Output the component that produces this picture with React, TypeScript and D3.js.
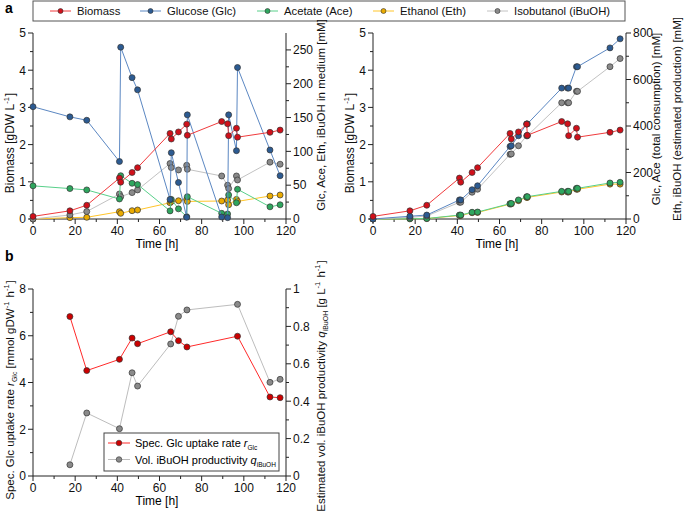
import React from "react";
import * as d3 from "d3";

// ---------- DATA ----------
const times = [0, 17.5, 25.5, 41, 41.6, 47, 49.6, 65, 65.6, 69, 72.9, 73.2, 89.5, 92.3, 92.8, 96.5, 97, 112.4, 117.2];
const biomass = [0.07, 0.22, 0.37, 1.1, 0.99, 1.25, 1.38, 2.3, 2.15, 2.34, 2.55, 2.25, 2.62, 2.56, 2.24, 2.44, 2.2, 2.33, 2.39];
const glucose = [166, 151, 146, 85, 254, 209, 191, 29, 98, 54, 2.5, 154, 3, 2, 154, 101, 224, 102, 64];
const acetate = [49, 45, 43, 29.6, 64, 52.8, 51, 12, 29, 15, 3.4, 33, 8.4, 7.4, 35.5, 24, 44, 18, 21];
const ethanol = [0, 2, 2.5, 10.8, 8.4, 12.3, 13.3, 24, 26, 27, 29, 26, 26.6, 28, 21, 29, 26, 34, 35.5];
const isobutanol = [0, 6, 11, 37, 33, 39, 43, 82, 76, 72.5, 79.4, 73.5, 63.6, 50, 45, 63.6, 57.7, 84, 81];

const glcTotal = [0, 12, 17, 82, 82, 126, 143, 312, 315, 358, 409, 409, 563, 563, 563, 655, 655, 736, 775];
const aceTotal = [0, 1, 2, 17, 17, 29, 30, 66, 67, 82, 96, 96, 119, 119, 119, 132, 132, 155, 158];
const ethTotal = [0, 1, 2, 15, 15, 27, 28, 64, 65, 79, 93, 93, 116, 116, 116, 128, 128, 150, 150];
const ibuTotal = [0, 7, 13, 72, 72, 115, 128, 278, 280, 315, 358, 358, 500, 500, 500, 549, 549, 655, 690];

const rateTimes = [17.5, 25.5, 41, 47, 49.6, 65.3, 69, 73, 97, 112.4, 117.2];
const rGlc = [6.82, 4.51, 4.99, 5.9, 5.66, 6.17, 5.79, 5.52, 5.98, 3.38, 3.35];
const qIBuOH = [0.06, 0.337, 0.253, 0.552, 0.481, 0.706, 0.854, 0.888, 0.918, 0.501, 0.517];

const xTicks = [0, 20, 40, 60, 80, 100, 120];
const biomassTicks = [0, 1, 2, 3, 4, 5];
const mediumTicks = [0, 50, 100, 150, 200, 250];
const totalTicks = [0, 200, 400, 600, 800];
const rateTicks = [0, 2, 4, 6, 8];
const prodTicks = [0, 0.2, 0.4, 0.6, 0.8, 1];

const legendLabels = ["Biomass", "Glucose (Glc)", "Acetate (Ace)", "Ethanol (Eth)", "Isobutanol (iBuOH)"];

// ---------- STYLE ----------
const FONT = "'Liberation Sans', Arial, Helvetica, sans-serif";
const C = {
  bio: { line: "#f03a3c", dot: "#d0101a" },
  glc: { line: "#5b87c2", dot: "#2c5b92" },
  ace: { line: "#58d08a", dot: "#2ea65e" },
  eth: { line: "#ffc52a", dot: "#e9aa00" },
  ibu: { line: "#c2c2c2", dot: "#8a8a8a" },
  rate: { line: "#ff2a2a", dot: "#cc0000" },
  prod: { line: "#bdbdbd", dot: "#8a8a8a" },
};
const AX = "#222";
const TICK_FS = 12;
const TITLE_FS = 11.5;

type Scale = d3.ScaleLinear<number, number>;

function XAxis({ x, y0, ticks }: { x: Scale; y0: number; ticks: number[] }) {
  const minors = d3.range(10, 120, 20);
  return (
    <g>
      <line x1={x.range()[0]} x2={x.range()[1]} y1={y0} y2={y0} stroke={AX} strokeWidth={1} />
      {ticks.map((t) => (
        <g key={"M" + t}>
          <line x1={x(t)} x2={x(t)} y1={y0} y2={y0 + 5} stroke={AX} />
          <text x={x(t)} y={y0 + 16} textAnchor="middle" fontSize={TICK_FS} fontFamily={FONT} fill="#111">
            {t}
          </text>
        </g>
      ))}
      {minors.map((t) => (
        <line key={"m" + t} x1={x(t)} x2={x(t)} y1={y0} y2={y0 + 3} stroke={AX} />
      ))}
    </g>
  );
}

function YAxis({ y, x0, ticks, minors, side, fmt }: { y: Scale; x0: number; ticks: number[]; minors: number[]; side: "left" | "right"; fmt?: (v: number) => string }) {
  const dir = side === "left" ? -1 : 1;
  return (
    <g>
      <line x1={x0} x2={x0} y1={y.range()[0]} y2={y.range()[1]} stroke={AX} />
      {ticks.map((t) => (
        <g key={"M" + t}>
          <line x1={x0} x2={x0 + dir * 5} y1={y(t)} y2={y(t)} stroke={AX} />
          <text
            x={x0 + dir * 7}
            y={y(t) + 4.3}
            textAnchor={side === "left" ? "end" : "start"}
            fontSize={TICK_FS}
            fontFamily={FONT}
            fill="#111"
          >
            {fmt ? fmt(t) : t}
          </text>
        </g>
      ))}
      {minors.map((t) => (
        <line key={"m" + t} x1={x0} x2={x0 + dir * 3} y1={y(t)} y2={y(t)} stroke={AX} />
      ))}
    </g>
  );
}

function Series({ xs, ys, x, y, col, r = 3 }: { xs: number[]; ys: number[]; x: Scale; y: Scale; col: { line: string; dot: string }; r?: number }) {
  const pts = xs.map((t, i) => [t, ys[i]] as [number, number]);
  const path = d3
    .line<[number, number]>()
    .x((d) => x(d[0]))
    .y((d) => y(d[1]))(pts);
  return (
    <g>
      <path d={path || ""} fill="none" stroke={col.line} strokeWidth={1} />
      {pts.map((d, i) => (
        <circle key={i} cx={x(d[0])} cy={y(d[1])} r={r} fill={col.dot} stroke="#333" strokeWidth={0.7} />
      ))}
    </g>
  );
}

function VLabel({ x, y, children, size = TITLE_FS }: { x: number; y: number; children: React.ReactNode; size?: number }) {
  return (
    <text transform={`translate(${x},${y}) rotate(-90)`} textAnchor="middle" fontSize={size} fontFamily={FONT} fill="#111">
      {children}
    </text>
  );
}

const Sup = ({ t }: { t: string }) => (
  <>
    <tspan dy={-5} fontSize={7.5}>{t}</tspan>
    <tspan dy={5}>{"\u200A"}</tspan>
  </>
);

export default function App() {
  // panel a-left
  const xA = d3.scaleLinear().domain([0, 120]).range([33, 286]);
  const yBio = d3.scaleLinear().domain([0, 5]).range([219, 33]);
  const yMed = d3.scaleLinear().domain([0, 275]).range([219, 33]);
  // panel a-right
  const xB = d3.scaleLinear().domain([0, 120]).range([373, 626]);
  const yTot = d3.scaleLinear().domain([0, 800]).range([219, 33]);
  // panel b
  const xC = d3.scaleLinear().domain([0, 120]).range([33, 286]);
  const yRate = d3.scaleLinear().domain([0, 8]).range([476, 289]);
  const yProd = d3.scaleLinear().domain([0, 1]).range([476, 289]);

  const bioMinor = d3.range(0.5, 5, 1);
  const legendX = [50, 140, 257, 373, 487];
  const legendCols = [C.bio, C.glc, C.ace, C.eth, C.ibu];

  return (
    <svg width={685} height={512} style={{ position: "absolute", left: 0, top: 0, background: "#fff" }}>
      <rect width={685} height={512} fill="#fff" />
      {/* panel letters */}
      <text x={5} y={13} fontSize={14} fontWeight="bold" fontFamily={FONT}>a</text>
      <text x={5} y={261} fontSize={14} fontWeight="bold" fontFamily={FONT}>b</text>

      {/* top legend */}
      <rect x={33} y={1} width={592} height={20} fill="#fff" stroke="#555" strokeWidth={1} />
      {legendLabels.map((lab, i) => (
        <g key={lab}>
          <line x1={legendX[i]} x2={legendX[i] + 21} y1={11} y2={11} stroke={legendCols[i].line} strokeWidth={1} />
          <circle cx={legendX[i] + 10.5} cy={11} r={2.5} fill={legendCols[i].dot} stroke="#333" strokeWidth={0.6} />
          <text x={legendX[i] + 27} y={15} fontSize={11.3} fontFamily={FONT} fill="#111">{lab}</text>
        </g>
      ))}

      {/* ---- panel a left ---- */}
      <XAxis x={xA} y0={219} ticks={xTicks} />
      <YAxis y={yBio} x0={33} ticks={biomassTicks} minors={bioMinor} side="left" />
      <YAxis y={yMed} x0={286} ticks={mediumTicks} minors={d3.range(25, 275, 50)} side="right" />
      <Series xs={times} ys={ethanol} x={xA} y={yMed} col={C.eth} />
      <Series xs={times} ys={isobutanol} x={xA} y={yMed} col={C.ibu} />
      <Series xs={times} ys={acetate} x={xA} y={yMed} col={C.ace} />
      <Series xs={times} ys={glucose} x={xA} y={yMed} col={C.glc} />
      <Series xs={times} ys={biomass} x={xA} y={yBio} col={C.bio} />
      <text x={157} y={248} textAnchor="middle" fontSize={TITLE_FS + 0.5} fontFamily={FONT}>Time [h]</text>
      <VLabel x={14} y={143} size={12}>
        Biomass [gDW L<Sup t="-1" />]
      </VLabel>
      <VLabel x={325} y={115}>Glc, Ace, Eth, iBuOH in medium [mM]</VLabel>

      {/* ---- panel a right ---- */}
      <XAxis x={xB} y0={219} ticks={xTicks} />
      <YAxis y={yBio} x0={373} ticks={biomassTicks} minors={bioMinor} side="left" />
      <YAxis y={yTot} x0={626} ticks={totalTicks} minors={d3.range(100, 800, 200)} side="right" />
      <Series xs={times} ys={ethTotal} x={xB} y={yTot} col={C.eth} />
      <Series xs={times} ys={aceTotal} x={xB} y={yTot} col={C.ace} />
      <Series xs={times} ys={ibuTotal} x={xB} y={yTot} col={C.ibu} />
      <Series xs={times} ys={glcTotal} x={xB} y={yTot} col={C.glc} />
      <Series xs={times} ys={biomass} x={xB} y={yBio} col={C.bio} />
      <text x={497} y={248} textAnchor="middle" fontSize={TITLE_FS + 0.5} fontFamily={FONT}>Time [h]</text>
      <VLabel x={354} y={143} size={12}>
        Biomass [gDW L<Sup t="-1" />]
      </VLabel>
      <VLabel x={660} y={119}>Glc, Ace (total consumption) [mM]</VLabel>
      <VLabel x={681} y={119}>Eth, iBuOH (estimated production) [mM]</VLabel>

      {/* ---- panel b ---- */}
      <XAxis x={xC} y0={476} ticks={xTicks} />
      <YAxis y={yRate} x0={33} ticks={rateTicks} minors={d3.range(1, 8, 2)} side="left" />
      <YAxis y={yProd} x0={286} ticks={prodTicks} minors={d3.range(0.1, 1, 0.2)} side="right" fmt={(v) => (v === 0 || v === 1 ? String(v) : v.toFixed(1))} />
      <Series xs={rateTimes} ys={qIBuOH} x={xC} y={yProd} col={C.prod} />
      <Series xs={rateTimes} ys={rGlc} x={xC} y={yRate} col={C.rate} />
      <text x={157} y={505} textAnchor="middle" fontSize={TITLE_FS + 0.5} fontFamily={FONT}>Time [h]</text>
      <VLabel x={14} y={390}>
        Spec. Glc uptake rate <tspan fontStyle="italic">r</tspan>
        <tspan dy={3} fontSize={7}>Glc</tspan>
        <tspan dy={-3}> [mmol gDW</tspan>
        <Sup t="-1" /> h<Sup t="-1" />]
      </VLabel>
      <VLabel x={325} y={386}>
        Estimated vol. iBuOH productivity <tspan fontStyle="italic">q</tspan>
        <tspan dy={3} fontSize={7}>iBuOH</tspan>
        <tspan dy={-3}> [g L</tspan>
        <Sup t="-1" /> h<Sup t="-1" />]
      </VLabel>

      {/* bottom legend */}
      <rect x={104} y={433} width={175} height={38} fill="#fff" stroke="#444" strokeWidth={1} />
      <line x1={108} x2={130} y1={443} y2={443} stroke={C.rate.line} />
      <circle cx={119} cy={443} r={2.8} fill={C.rate.dot} stroke="#333" strokeWidth={0.6} />
      <text x={135} y={447} fontSize={11} fontFamily={FONT}>
        Spec. Glc uptake rate <tspan fontStyle="italic">r</tspan>
        <tspan dy={3} fontSize={6.5}>Glc</tspan>
      </text>
      <line x1={108} x2={130} y1={459.5} y2={459.5} stroke={C.prod.line} />
      <circle cx={119} cy={459.5} r={2.8} fill={C.prod.dot} stroke="#333" strokeWidth={0.6} />
      <text x={135} y={463.5} fontSize={11} fontFamily={FONT}>
        Vol. iBuOH productivity <tspan fontStyle="italic">q</tspan>
        <tspan dy={3} fontSize={6.5}>iBuOH</tspan>
      </text>
    </svg>
  );
}
